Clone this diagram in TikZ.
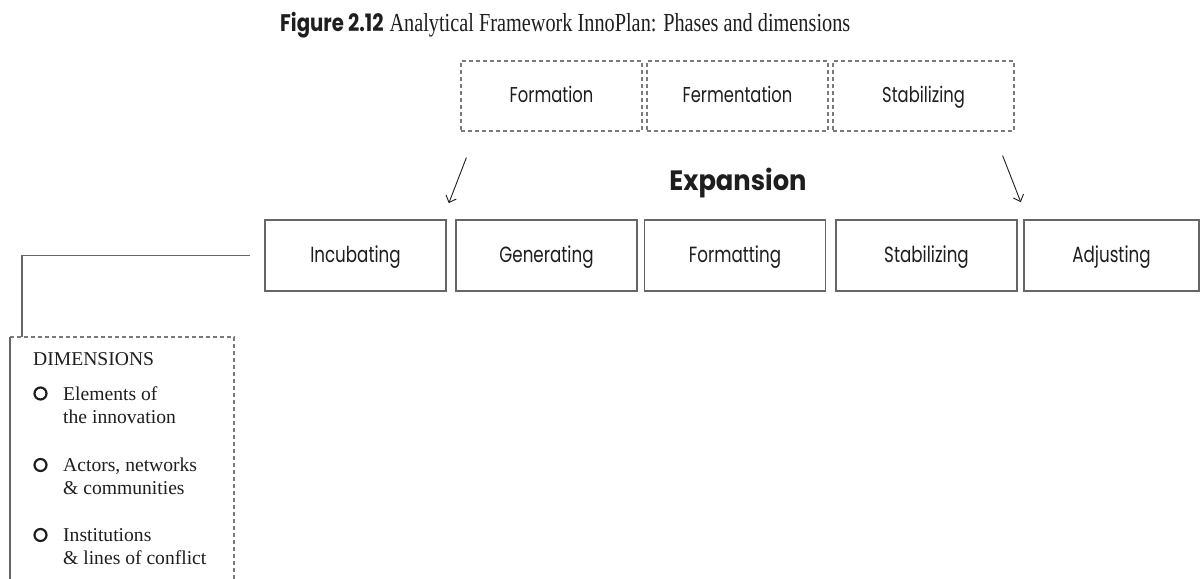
\documentclass[tikz,border=0pt]{standalone}
\usepackage{fontspec}
\setmainfont{Liberation Serif}
\newfontfamily\capserif{Liberation Serif}[FakeStretch=0.78]
\newfontfamily\geofont{Poppins}[FakeStretch=0.76]
\newfontfamily\geoboldfont{Poppins}[FakeStretch=0.92]
\newfontfamily\capsans{Poppins}[FakeStretch=0.82]
\usetikzlibrary{arrows.meta,calc}

\definecolor{ink}{HTML}{1E1E1E}
\definecolor{rule}{HTML}{666666}
\definecolor{dashrule}{HTML}{7A7A7A}

\tikzset{
  phasebox/.style={draw=rule, line width=1.6pt, minimum width=181pt,
    minimum height=71pt, inner sep=0pt, text=ink, text height=16pt, text depth=2pt,
    font=\geofont\fontsize{22}{26}\selectfont},
  stagebox/.style={draw=dashrule, dash pattern=on 4pt off 3pt, line width=1.2pt,
    minimum width=181pt, minimum height=70pt, inner sep=0pt, text=ink,
    text height=16pt, text depth=4pt,
    font=\geofont\fontsize{21.5}{26}\selectfont},
  flow/.style={draw=ink, line width=0.9pt, -{Straight Barb[length=6pt,width=11pt]}},
  link/.style={draw=rule, line width=1.3pt},
  dimedge/.style={draw=dashrule, dash pattern=on 4pt off 3pt, line width=1.2pt},
  dimtext/.style={anchor=base west, inner sep=0pt, text=ink,
    font=\fontsize{19.6}{23}\selectfont},
  bulletmark/.style={circle, draw=ink, line width=2.2pt, minimum size=12pt, inner sep=0pt},
}

\begin{document}
\begin{tikzpicture}[x=1pt, y=-1pt]
  \useasboundingbox (0,0) rectangle (1201,578);

  % caption
  \node[anchor=base west, inner sep=0pt, text=ink]
    (caption) at (280,32)
    {{\capsans\bfseries\fontsize{24}{28}\selectfont Figure 2.12}\hspace{6pt}{\capserif\fontsize{26}{30}\selectfont Analytical Framework InnoPlan: Phases and dimensions}};

  % upper row: dashed stages
  \node[stagebox] (formation)    at (551.5,96) {Formation};
  \node[stagebox] (fermentation) at (737.5,96) {Fermentation};
  \node[stagebox] (stabtop)      at (923.5,96) {Stabilizing};

  % heading between the rows
  \node[anchor=base, inner sep=0pt, text=ink, font=\geoboldfont\bfseries\fontsize{28}{32}\selectfont]
    (expansion) at (738,190) {Expansion};

  % lower row: solid phases
  \node[phasebox] (incubating)  at (355.5,255.5) {Incubating};
  \node[phasebox] (generating)  at (546.5,255.5) {Generating};
  \node[phasebox] (formatting)  at (735,255.5)   {Formatting};
  \node[phasebox] (stabilizing) at (926.5,255.5) {Stabilizing};
  \node[phasebox, minimum width=175pt] (adjusting) at (1111.5,255.5) {Adjusting};

  % arrows from the stages down to the phases
  \coordinate (lstart) at ($(formation.south west)+(6,26)$);
  \coordinate (lend)   at ($(incubating.north east)+(2,-16)$);
  \coordinate (rstart) at ($(stabtop.south east)+(-12,24)$);
  \coordinate (rend)   at ($(stabilizing.north east)+(3,-17)$);
  \draw[flow] (lstart) -- (lend);
  \draw[flow] (rstart) -- (rend);

  % dimensions panel
  \coordinate (dimTL) at (10,337);
  \coordinate (dimTR) at (234,337);
  \coordinate (dimBL) at (10,582);
  \coordinate (dimBR) at (234,582);
  \coordinate (dimjoin) at (22,337);
  \draw[link] (dimBL) -- (dimTL);
  \draw[dimedge] (dimTL) -- (dimTR) -- (dimBR);
  \draw[link, shorten <=14pt] (incubating.west) -| (dimjoin);

  \node[dimtext] (dimhead) at (33,365) {DIMENSIONS};

  \node[bulletmark] (b1) at (40.5,393.5) {};
  \node[dimtext] (e1a) at (63,400) {Elements of};
  \node[dimtext] (e1b) at (63,423) {the innovation};

  \node[bulletmark] (b2) at (40.5,465) {};
  \node[dimtext] (e2a) at (63,471) {Actors, networks};
  \node[dimtext] (e2b) at (63,494) {\& communities};

  \node[bulletmark] (b3) at (40.5,535) {};
  \node[dimtext] (e3a) at (63,541) {Institutions};
  \node[dimtext] (e3b) at (63,564) {\& lines of conflict};
\end{tikzpicture}
\end{document}
